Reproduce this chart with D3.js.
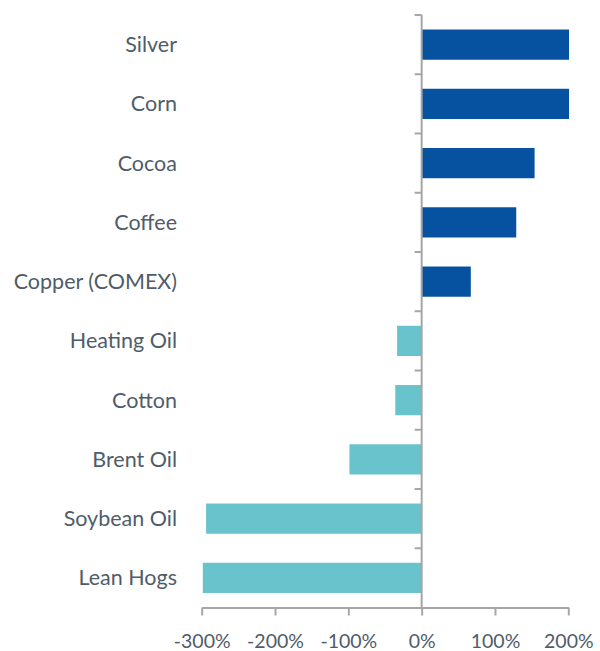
<!DOCTYPE html>
<html><head><meta charset="utf-8">
<script src="https://cdn.jsdelivr.net/npm/d3@7"></script>
<style>body{margin:0;background:#fff}svg{display:block}</style>
</head><body>
<svg id="c" width="600" height="651"></svg>
<script>
const categories = ["Silver","Corn","Cocoa","Coffee","Copper (COMEX)","Heating Oil","Cotton","Brent Oil","Soybean Oil","Lean Hogs"];
const values = [201, 201, 154, 129, 67, -33.5, -36, -98.5, -294, -298.5];
const xTicks = [-300, -200, -100, 0, 100, 200];

const svg = d3.select("#c");
const font = "Lato, 'Open Sans', sans-serif";
const textColor = "#505c69";
const axisColor = "#a6a6a6";

const x = d3.scaleLinear().domain([-300, 200]).range([201.7, 568.3]);
const y = d3.scaleBand().domain(categories).range([15, 607.5]).paddingInner(0.49).paddingOuter(0.245);
const yb = d3.scaleBand().domain(categories).range([15, 607.5]);

// bars
svg.selectAll("rect.bar").data(categories).join("rect")
  .attr("x", (d,i) => Math.min(x(0), x(values[i])))
  .attr("width", (d,i) => Math.abs(x(values[i]) - x(0)))
  .attr("y", d => y(d))
  .attr("height", y.bandwidth())
  .attr("fill", (d,i) => values[i] >= 0 ? "#0652a0" : "#69c3cc");

// x axis
const xa = svg.append("g").attr("transform", "translate(0,607.5)")
  .call(d3.axisBottom(x).tickValues(xTicks).tickFormat(d => d + "%").tickSize(8).tickSizeOuter(0));
xa.select(".domain").attr("stroke", axisColor).attr("stroke-width", 2);
xa.selectAll(".tick line").attr("stroke", axisColor).attr("stroke-width", 2);
xa.selectAll(".tick text").attr("font-family", font).attr("font-size", 19.5).attr("fill", textColor).attr("dy", 0).attr("y", 40);

// y axis at zero with ticks at band boundaries
const ya = svg.append("g").attr("transform", `translate(${x(0)},0)`);
ya.append("line").attr("x1", 0).attr("x2", 0).attr("y1", 15).attr("y2", 607.5)
  .attr("stroke", axisColor).attr("stroke-width", 2);
const bounds = categories.map(c => yb(c));
ya.selectAll("line.t").data(bounds).join("line")
  .attr("x1", -7).attr("x2", 0).attr("y1", d => d).attr("y2", d => d)
  .attr("stroke", axisColor).attr("stroke-width", 2);

// category labels
svg.selectAll("text.lab").data(categories).join("text")
  .attr("x", 177).attr("y", d => yb(d) + yb.bandwidth()/2)
  .attr("dy", "0.35em").attr("text-anchor", "end")
  .attr("font-family", font).attr("font-size", 21.5).attr("fill", textColor)
  .text(d => d);
</script>
</body></html>
